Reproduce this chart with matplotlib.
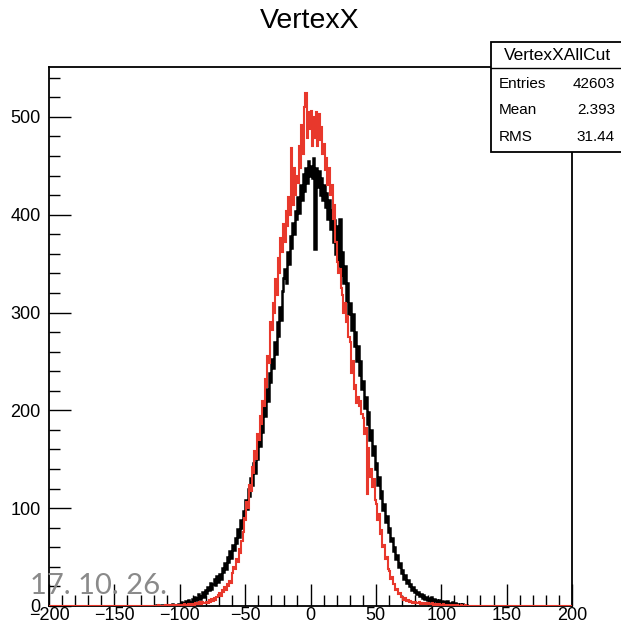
import numpy as np
import matplotlib
matplotlib.use('Agg')
import matplotlib.pyplot as plt
from matplotlib.ticker import MultipleLocator, FixedLocator
from matplotlib.patches import Rectangle
from matplotlib.lines import Line2D

# ---------------- data ----------------
title = "VertexX"
hist_name = "VertexXAllCut"
stats_labels = ["Entries", "Mean", "RMS"]
stats_values = ["42603", "2.393", "31.44"]
date_text = "17. 10. 26."

x_range = (-200, 200)
bin_width = 1
first_bin = -120   # left edge of first listed bin

black_counts = [
    0, 0, 1, 0, 0, 0, 1, 0, 0, 0,
    0, 1, 0, 0, 2, 0, 1, 0, 1, 2,
    1, 4, 2, 3, 5, 2, 6, 3, 4, 7,
    5, 9, 6, 8, 12, 7, 10, 14, 9, 16,
    13, 19, 16, 24, 17, 22, 28, 21, 31, 25,
    33, 28, 39, 35, 44, 38, 50, 45, 56, 49,
    62, 57, 70, 64, 79, 71, 88, 80, 97, 90,
    108, 99, 120, 112, 131, 124, 146, 136, 158, 150,
    172, 164, 190, 178, 206, 194, 222, 210, 238, 229,
    252, 243, 270, 258, 290, 276, 306, 292, 322, 335,
    345, 330, 362, 350, 378, 366, 392, 380, 404, 396,
    418, 402, 430, 415, 442, 424, 448, 432, 455, 440,
    450, 438, 458, 365, 448, 428, 445, 420, 438, 415,
    430, 408, 422, 396, 415, 385, 405, 372, 395, 360,
    388, 348, 396, 338, 362, 330, 348, 312, 330, 298,
    310, 282, 298, 266, 280, 250, 266, 236, 250, 222,
    230, 202, 214, 186, 198, 170, 180, 154, 164, 140,
    146, 124, 132, 110, 118, 98, 104, 86, 92, 76,
    80, 66, 70, 56, 60, 48, 52, 40, 44, 34,
    37, 28, 32, 24, 27, 20, 23, 16, 19, 14,
    16, 12, 14, 10, 12, 8, 11, 7, 9, 6,
    8, 5, 9, 4, 7, 5, 6, 3, 6, 4,
    5, 2, 4, 3, 5, 2, 3, 1, 4, 2,
    3, 1, 2, 0, 2, 1, 2, 0, 1, 1,
]

red_counts = [
    0, 0, 0, 1, 0, 0, 0, 0, 0, 1,
    0, 0, 1, 0, 0, 1, 0, 0, 1, 0,
    1, 0, 1, 2, 1, 0, 2, 1, 2, 1,
    2, 1, 3, 2, 2, 4, 2, 4, 3, 3,
    4, 3, 6, 4, 7, 5, 8, 6, 9, 11,
    13, 10, 16, 14, 19, 16, 22, 20, 26, 24,
    34, 40, 38, 48, 45, 58, 54, 66, 76, 90,
    88, 106, 100, 124, 118, 142, 136, 158, 150, 176,
    170, 194, 186, 210, 204, 232, 224, 256, 248, 290,
    282, 310, 300, 334, 318, 356, 340, 376, 362, 390,
    372, 404, 388, 418, 400, 468, 410, 448, 420, 440,
    432, 470, 448, 492, 462, 510, 524, 478, 505, 488,
    506, 470, 500, 478, 505, 470, 503, 476, 490, 462,
    472, 446, 458, 430, 448, 420, 430, 396, 410, 372,
    352, 340, 345, 325, 318, 300, 310, 290, 296, 275,
    270, 238, 250, 222, 226, 208, 214, 204, 210, 196,
    192, 176, 182, 115, 162, 132, 140, 122, 130, 108,
    104, 88, 94, 74, 78, 60, 62, 48, 50, 38,
    36, 28, 30, 22, 22, 16, 17, 12, 13, 9,
    9, 6, 8, 5, 6, 4, 5, 4, 3, 4,
    4, 3, 3, 4, 2, 3, 3, 2, 3, 2,
    3, 2, 2, 3, 1, 2, 2, 1, 2, 1,
    1, 2, 1, 1, 0, 1, 1, 0, 1, 1,
    0, 1, 1, 0, 0, 1, 0, 0, 1, 0,
]

x_ticks = [-200, -150, -100, -50, 0, 50, 100, 150, 200]
y_ticks = [0, 100, 200, 300, 400, 500]
y_max = 551

# ---------------- figure ----------------
W, H = 621, 631
dpi = 100
fig = plt.figure(figsize=(W / dpi, H / dpi), dpi=dpi)
fig.patch.set_facecolor('white')

ax_l, ax_r, ax_t, ax_b = 49, 572, 67, 606
ax = fig.add_axes([ax_l / W, 1 - ax_b / H, (ax_r - ax_l) / W, (ax_b - ax_t) / H])

edges = np.arange(x_range[0], x_range[1] + bin_width, bin_width)


def full_counts(counts):
    arr = np.zeros(len(edges) - 1)
    i0 = int((first_bin - x_range[0]) / bin_width)
    arr[i0:i0 + len(counts)] = counts
    return arr


ax.stairs(full_counts(black_counts), edges, color='black', linewidth=1.8, zorder=3)
ax.stairs(full_counts(red_counts), edges, color='#e8382c', linewidth=1.5, zorder=4)

ax.set_xlim(*x_range)
ax.set_ylim(0, y_max)

font = 'Liberation Sans'
ax.xaxis.set_major_locator(FixedLocator(x_ticks))
ax.yaxis.set_major_locator(FixedLocator(y_ticks))
ax.xaxis.set_minor_locator(MultipleLocator(10))
ax.yaxis.set_minor_locator(MultipleLocator(20))
ax.set_xticklabels([f"{v}".replace('-', '\u2212') for v in x_ticks], fontfamily=font, fontsize=13)
ax.set_yticklabels([str(v) for v in y_ticks], fontfamily=font, fontsize=13)
ax.tick_params(which='both', direction='in', top=False, right=False, width=1.0, color='black')
ax.tick_params(which='major', length=16, pad=2)
ax.tick_params(which='minor', length=8)
ax.tick_params(axis='x', which='major', pad=1)
ax.tick_params(axis='y', which='major', pad=6)
for s in ax.spines.values():
    s.set_linewidth(1.3)

# title
fig.text(310 / W, 1 - 21 / H, title, ha='center', va='center', fontfamily=font, fontsize=20.5)

# stats box
bx0, bx1, by0, by1 = 491, 622, 42, 152
box = Rectangle((bx0 / W, 1 - by1 / H), (bx1 - bx0) / W, (by1 - by0) / H,
                transform=fig.transFigure, facecolor='white', edgecolor='black',
                linewidth=1.3, zorder=10)
fig.add_artist(box)
sep_y = 68
fig.add_artist(Line2D([bx0 / W, bx1 / W], [1 - sep_y / H, 1 - sep_y / H],
                      transform=fig.transFigure, color='black', linewidth=1.0, zorder=11))
fig.text(557 / W, 1 - 55 / H, hist_name, ha='center', va='center', fontfamily=font,
         fontsize=12.5, zorder=12)
row_y = [84, 110, 137]
for lab, val, yy in zip(stats_labels, stats_values, row_y):
    fig.text(499 / W, 1 - yy / H, lab, ha='left', va='center', fontfamily=font, fontsize=11, zorder=12)
    fig.text(615 / W, 1 - yy / H, val, ha='right', va='center', fontfamily=font, fontsize=11, zorder=12)

# date stamp
fig.text(30 / W, 1 - 586 / H, date_text, ha='left', va='center', fontfamily='Lato',
         fontsize=21, color='#8a8a8a', zorder=20)

fig.savefig('out.png', dpi=dpi)
